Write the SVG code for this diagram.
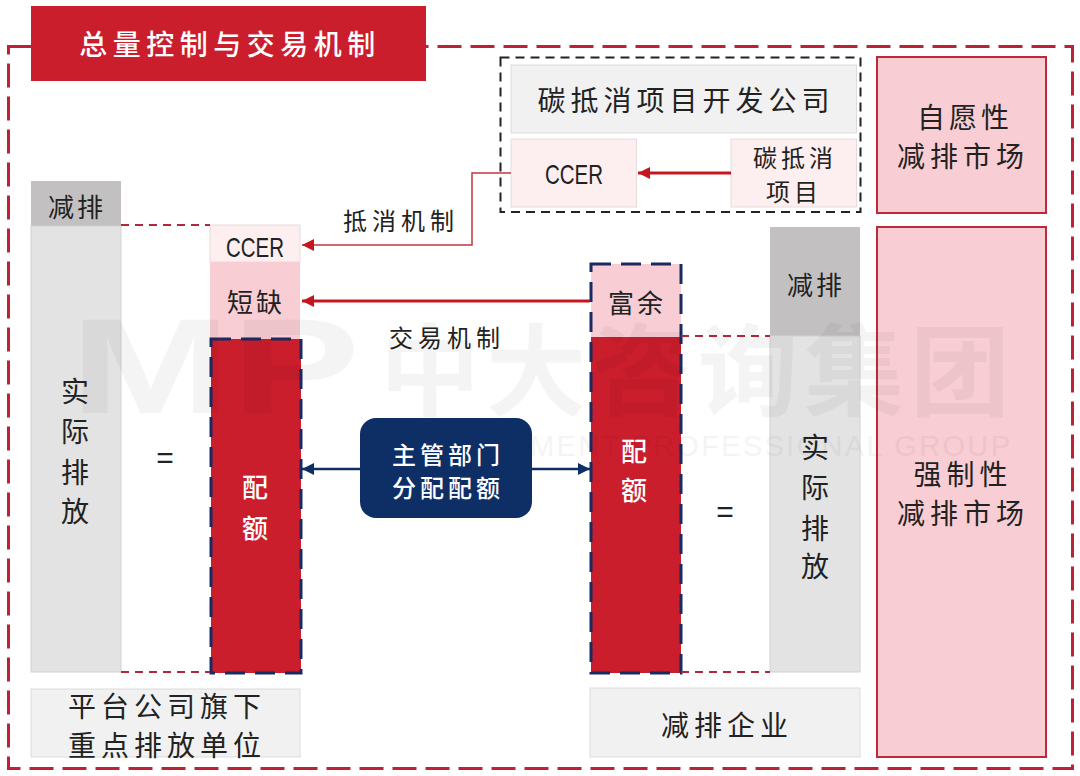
<svg xmlns="http://www.w3.org/2000/svg" width="1080" height="776" viewBox="0 0 1080 776">
<style>
text{font-family:"Noto Sans CJK SC","Noto Sans",sans-serif;fill:#222;text-anchor:middle;dominant-baseline:central}
.latin{font-family:"Liberation Sans",sans-serif}
.w{fill:#fff;font-weight:500}
.f28{font-size:28px}.f26{font-size:26px}.f24{font-size:24px}
.gray{fill:#e3e3e3;stroke:#d2d2d2;stroke-width:1}
.dgray{fill:#c2c0c0}
.light{fill:#f1f1f1;stroke:#dcdcdc;stroke-width:1}
.pale{fill:#fdeef0;stroke:#e6dcdd;stroke-width:1}
.pink{fill:#f8cdd3}
.market{fill:#f8cdd3;stroke:#bd2a3a;stroke-width:2}
.red{fill:#cb1e2d}
.navyd{fill:none;stroke:#1b2a63;stroke-width:3;stroke-dasharray:20 10}
.conn{fill:none}
.wm{fill:#000}
</style>
<defs>
<marker id="ar" markerUnits="userSpaceOnUse" markerWidth="14" markerHeight="14" refX="12" refY="6" orient="auto"><path d="M0 0L12 6L0 12Z" fill="#c5161f"/></marker>
<marker id="an" markerUnits="userSpaceOnUse" markerWidth="14" markerHeight="14" refX="12" refY="6" orient="auto"><path d="M0 0L12 6L0 12Z" fill="#0e2f66"/></marker>
</defs>
<rect width="1080" height="776" fill="#fff"/>
<rect id="frame" x="8.5" y="46.5" width="1064" height="722" fill="none" stroke="#bd2136" stroke-width="3" stroke-dasharray="24 9"/>

<g id="title"><rect x="31" y="6" width="395" height="75" class="red"/><text x="230" y="43" class="w f28" letter-spacing="5.5">总量控制与交易机制</text></g>
<rect id="offset-frame" x="500.500" y="57.500" width="360" height="154.500" fill="none" stroke="#222" stroke-width="2" stroke-dasharray="9 6"/>
<g id="developer"><rect x="511" y="65" width="345.500" height="68" class="light"/><text x="686" y="99" class="f28" letter-spacing="5">碳抵消项目开发公司</text></g>
<g id="ccer-source"><rect x="511" y="139" width="125.500" height="68" class="pale"/><text x="574" y="174" class="latin" font-size="28" textLength="58" lengthAdjust="spacingAndGlyphs">CCER</text></g>
<g id="offset-project"><rect x="731" y="139" width="125.500" height="68" class="pale"/><text class="f24"><tspan x="795" y="156" letter-spacing="4">碳抵消</tspan><tspan x="794" y="190" letter-spacing="4">项目</tspan></text></g>
<g id="voluntary"><rect x="877" y="57" width="169" height="156" class="market"/><text class="f28"><tspan x="965" y="116" letter-spacing="4">自愿性</tspan><tspan x="963" y="155" letter-spacing="5">减排市场</tspan></text></g>
<g id="mandatory"><rect x="877" y="227" width="169" height="530" class="market"/><text class="f28"><tspan x="963" y="473" letter-spacing="5">强制性</tspan><tspan x="963" y="512" letter-spacing="5">减排市场</tspan></text></g>

<g id="left-reduction"><rect x="31" y="181" width="90" height="45" class="dgray"/><text x="77" y="205" class="f26" letter-spacing="3">减排</text></g>
<g id="left-actual"><rect x="31" y="226" width="90" height="446" class="gray"/><text class="f28"><tspan x="75" y="390">实</tspan><tspan x="75" y="430">际</tspan><tspan x="75" y="471">排</tspan><tspan x="75" y="510">放</tspan></text></g>
<text id="eq-left" x="165" y="457" class="latin" font-size="30">=</text>
<g id="ccer-left"><rect x="210" y="225" width="90" height="37" class="pale"/><text x="255" y="247" class="latin" font-size="28" textLength="58" lengthAdjust="spacingAndGlyphs">CCER</text></g>
<g id="shortage"><rect x="210" y="262" width="90" height="77" class="pink"/><text x="256" y="300" class="f26" letter-spacing="3">短缺</text></g>
<g id="quota-left"><rect x="211" y="339" width="90" height="334" class="red"/><rect x="211" y="339" width="90" height="334" class="navyd"/><text class="w f26"><tspan x="255" y="485">配</tspan><tspan x="255" y="526">额</tspan></text></g>

<g id="surplus-quota"><rect x="591" y="264" width="90" height="73" class="pink"/><rect x="591" y="337" width="90" height="336" class="red"/><rect x="591" y="264" width="90" height="409" class="navyd"/><text x="637" y="301" class="f26" letter-spacing="3">富余</text><text class="w f26"><tspan x="634" y="449">配</tspan><tspan x="634" y="488">额</tspan></text></g>
<text id="eq-right" x="725" y="511" class="latin" font-size="30">=</text>
<g id="right-reduction"><rect x="770" y="227" width="90" height="109" class="dgray"/><text x="816" y="283" class="f26" letter-spacing="3">减排</text></g>
<g id="right-actual"><rect x="770" y="336" width="90" height="336" class="gray"/><text class="f28"><tspan x="815" y="446">实</tspan><tspan x="815" y="486">际</tspan><tspan x="815" y="527">排</tspan><tspan x="815" y="565">放</tspan></text></g>

<g id="regulator"><rect x="360" y="418" width="172" height="100" rx="16" fill="#0e2f66"/><text class="w f24"><tspan x="448" y="453" letter-spacing="4">主管部门</tspan><tspan x="448" y="486" letter-spacing="4">分配配额</tspan></text></g>
<g id="platform"><rect x="31" y="689" width="269" height="68" class="light"/><text class="f28"><tspan x="167" y="705" letter-spacing="5">平台公司旗下</tspan><tspan x="167" y="744" letter-spacing="5">重点排放单位</tspan></text></g>
<g id="enterprise"><rect x="590" y="688" width="270" height="69" class="light"/><text x="727" y="724" class="f28" letter-spacing="5">减排企业</text></g>

<g id="connectors" class="conn">
<path d="M121 225H210M121 672H210M681 336H770M681 672H770" stroke="#b0293a" stroke-width="2" stroke-dasharray="8 6"/>
<path d="M511 173H472V245H302" stroke="#c5363f" stroke-width="1.500" marker-end="url(#ar)"/>
<path d="M590 301H302" stroke="#c5161f" stroke-width="3" marker-end="url(#ar)"/>
<path d="M731 173H638" stroke="#c5161f" stroke-width="3" marker-end="url(#ar)"/>
<path d="M360 469H302" stroke="#0e2f66" stroke-width="2.500" marker-end="url(#an)"/>
<path d="M532 469H590" stroke="#0e2f66" stroke-width="2.500" marker-end="url(#an)"/>
</g>
<text id="label-offset" x="401" y="219" class="f24" letter-spacing="5">抵消机制</text>
<text id="label-trade" x="447" y="336" class="f24" letter-spacing="5">交易机制</text>

<g id="watermark" opacity="0.04">
<text x="215" y="366" class="latin wm" font-size="135" font-weight="700" textLength="290" lengthAdjust="spacingAndGlyphs">MP</text>
<text x="698" y="364" class="wm" font-size="100" font-weight="700" letter-spacing="6">中大咨询集团</text>
<text x="770" y="446" class="latin wm" font-size="29" textLength="480" lengthAdjust="spacing">MENT PROFESSIONAL GROUP</text>
</g>
</svg>
